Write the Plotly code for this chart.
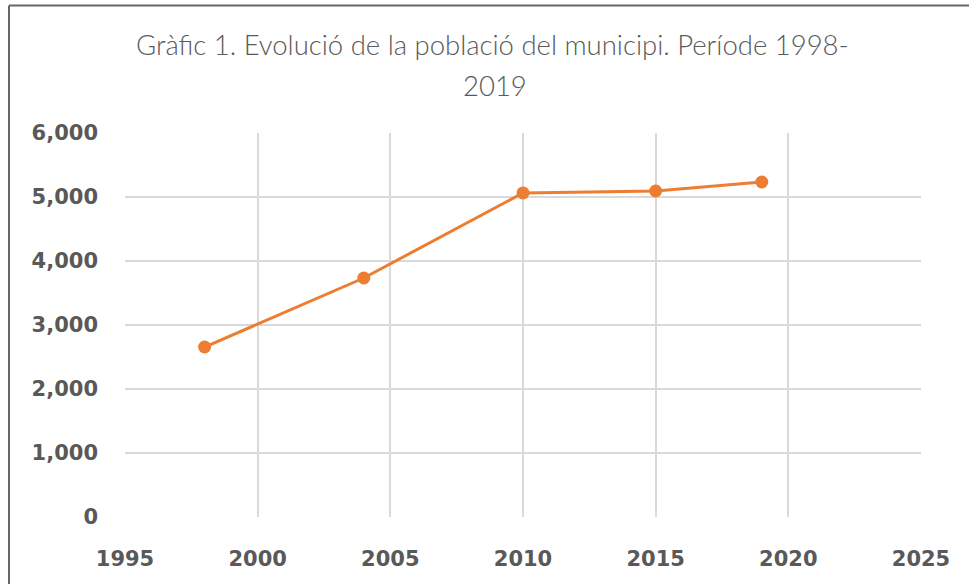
import plotly.graph_objects as go

years = [1998, 2004, 2010, 2015, 2019]
population = [2656, 3734, 5063, 5094, 5234]
x_ticks = [1995, 2000, 2005, 2010, 2015, 2020, 2025]
y_ticks = [0, 1000, 2000, 3000, 4000, 5000, 6000]
y_tick_labels = ["0", "1,000", "2,000", "3,000", "4,000", "5,000", "6,000"]
title_line1 = "Gràfic 1. Evolució de la població del municipi. Període 1998-"
title_line2 = "2019"

W, H = 969, 584
L, R, T, B = 125, 48, 133, 67
pw, ph = W - L - R, H - T - B

fig = go.Figure()
fig.add_trace(go.Scatter(
    x=years, y=population, mode="lines+markers",
    line=dict(color="#ED7D31", width=3),
    marker=dict(color="#ED7D31", size=13),
    showlegend=False, hoverinfo="x+y",
))

tick_font = dict(family="DejaVu Sans", size=21, color="#595959", weight="bold")
grid = "#d9d9d9"

fig.update_layout(
    width=W, height=H,
    margin=dict(l=L, r=R, t=T, b=B),
    paper_bgcolor="white", plot_bgcolor="white",
    xaxis=dict(range=[1995, 2025], tickvals=x_ticks, ticktext=[str(v) for v in x_ticks],
               showgrid=True, gridcolor=grid, gridwidth=1.5, zeroline=False,
               showline=False, tickfont=tick_font, ticks="", ticklabelstandoff=27),
    yaxis=dict(range=[0, 6000], tickvals=y_ticks, ticktext=y_tick_labels,
               showgrid=True, gridcolor=grid, gridwidth=1.5, zeroline=False,
               showline=False, tickfont=tick_font, ticks="", ticklabelstandoff=26),
)

title_font = dict(family="Lato", size=27.5, color="#595959", weight=300)
fig.add_annotation(text=title_line1, xref="paper", yref="paper",
                   x=(492 - L) / pw, y=(H - B - 44) / ph, showarrow=False,
                   font=title_font, xanchor="center", yanchor="middle")
fig.add_annotation(text=title_line2, xref="paper", yref="paper",
                   x=(495 - L) / pw, y=(H - B - 85) / ph, showarrow=False,
                   font=title_font, xanchor="center", yanchor="middle")

# chart frame (left and top edges)
fx0 = (9 - L) / pw
fy1 = (H - B - 5.5) / ph
fig.add_shape(type="line", xref="paper", yref="paper", x0=fx0, x1=fx0,
              y0=(H - B - 600) / ph, y1=fy1, line=dict(color="#666666", width=2))
fig.add_shape(type="line", xref="paper", yref="paper", x0=fx0, x1=(1000 - L) / pw,
              y0=fy1, y1=fy1, line=dict(color="#666666", width=2))

fig.write_html("out.html", config={"displayModeBar": False},
               post_script="document.body.style.margin='0';document.body.style.overflow='hidden';")
